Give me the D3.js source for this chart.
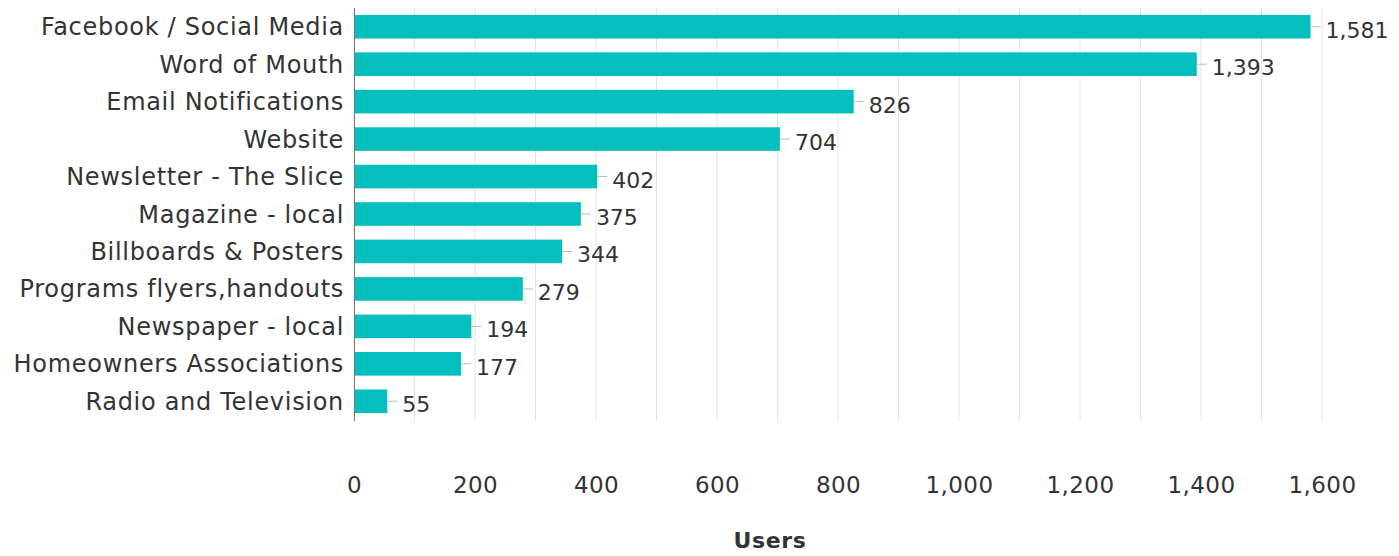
<!DOCTYPE html>
<html><head><meta charset="utf-8">
<script src="https://cdn.jsdelivr.net/npm/d3@7"></script>
<style>body{margin:0;background:#fff}svg{display:block}text{font-family:"DejaVu Sans",sans-serif;fill:#333}</style>
</head><body><svg id="c" width="1399" height="556"></svg>
<script>
const categories = ["Facebook / Social Media","Word of Mouth","Email Notifications","Website","Newsletter - The Slice","Magazine - local","Billboards & Posters","Programs flyers,handouts","Newspaper - local","Homeowners Associations","Radio and Television"];
const users = [1581,1393,826,704,402,375,344,279,194,177,55];
const tickValues = [0,200,400,600,800,1000,1200,1400,1600];
const gridValues = d3.range(0,1601,100);
const axisTitle = "Users";

const svg = d3.select("#c");
const x = d3.scaleLinear().domain([0,1600]).range([354,1322]);
const y = d3.scaleBand().domain(categories).range([8,420]).paddingInner(0.37).paddingOuter(0.185);
const fmt = d3.format(",");

svg.append("g").selectAll("line").data(gridValues).join("line")
  .attr("x1",d=>x(d)).attr("x2",d=>x(d)).attr("y1",8).attr("y2",421)
  .attr("stroke","#e4e4e4").attr("stroke-width",1);

svg.append("g").selectAll("rect").data(users).join("rect")
  .attr("x",x(0)).attr("y",(d,i)=>y(categories[i]))
  .attr("width",d=>x(d)-x(0)).attr("height",y.bandwidth())
  .attr("fill","#04bfbd");

svg.append("line").attr("x1",x(0)+0.5).attr("x2",x(0)+0.5).attr("y1",8).attr("y2",421).attr("stroke","#777").attr("stroke-width",1);

// value connectors + labels
const vg = svg.append("g");
vg.selectAll("line").data(users).join("line")
  .attr("x1",d=>x(d)).attr("x2",d=>x(d)+10)
  .attr("y1",(d,i)=>y(categories[i])+y.bandwidth()/2).attr("y2",(d,i)=>y(categories[i])+y.bandwidth()/2)
  .attr("stroke","#bbb").attr("stroke-width",1);
vg.selectAll("text").data(users).join("text")
  .attr("x",d=>x(d)+15).attr("y",(d,i)=>y(categories[i])+y.bandwidth()/2+11)
  .attr("font-size",22).text(d=>fmt(d));

// category labels
svg.append("g").selectAll("text").data(categories).join("text")
  .attr("x",344).attr("y",d=>y(d)+y.bandwidth()/2+8.5)
  .attr("text-anchor","end").attr("font-size",24).attr("letter-spacing",0.7).text(d=>d);

// x axis tick labels
const axis = d3.axisBottom(x).tickValues(tickValues).tickFormat(fmt).tickSize(0).tickPadding(0);
const ag = svg.append("g").attr("transform","translate(0,477)").call(axis);
ag.select(".domain").remove();
ag.selectAll("text").attr("font-size",23).attr("letter-spacing",0.4).attr("fill","#333").attr("dy","0.71em").style("font-family","DejaVu Sans");

svg.append("text").attr("x",770).attr("y",548).attr("text-anchor","middle")
  .attr("font-size",22).attr("letter-spacing",0.6).attr("font-weight","bold").text(axisTitle);
</script></body></html>
